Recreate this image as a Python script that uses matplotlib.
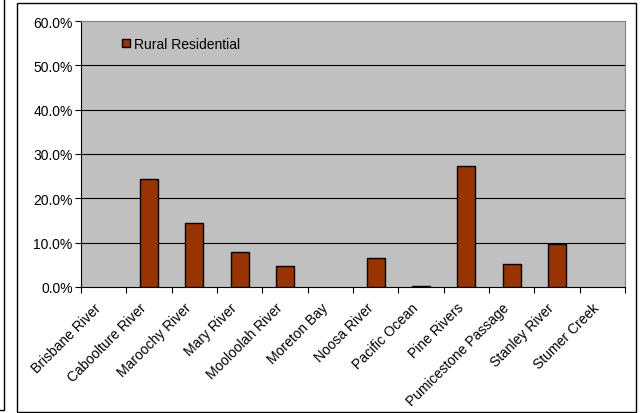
import numpy as np
import matplotlib.pyplot as plt
from matplotlib.patches import Rectangle

plt.rcParams['font.family'] = ['Liberation Sans', 'DejaVu Sans']

catchments = ['Brisbane River', 'Caboolture River', 'Maroochy River', 'Mary River',
              'Mooloolah River', 'Moreton Bay', 'Noosa River', 'Pacific Ocean',
              'Pine Rivers', 'Pumicestone Passage', 'Stanley River', 'Stumer Creek']
rural_res = [0.0, 24.4, 14.4, 8.0, 4.7, 0.0, 6.5, 0.2, 27.4, 5.1, 9.6, 0.0]

fig = plt.figure(figsize=(6.41, 4.14), dpi=100)
# outer chart border and the edge of a neighbouring chart
fig.patches.append(Rectangle((17/641, 1 - 413/414), 619/641, 409/414, transform=fig.transFigure,
                             fill=False, edgecolor='black', linewidth=1.0))
fig.patches.append(Rectangle((-10/641, 1 - 411/414), 14/641, 420/414, transform=fig.transFigure,
                             fill=False, edgecolor='black', linewidth=1.0))

ax = fig.add_axes([81/641, 1 - 288/414, 544/641, 266/414])
ax.set_facecolor('#C0C0C0')
x = np.arange(len(catchments))
edges = ['black' if v > 0 else 'none' for v in rural_res]
ax.bar(x, rural_res, width=0.4, color='#993300', edgecolor=edges, linewidth=1.0,
       label='Rural Residential', zorder=3)

ax.set_xlim(-0.5, len(catchments) - 0.5)
ax.set_ylim(0, 60)
ax.set_yticks(np.arange(0, 61, 10))
ax.set_yticklabels(['%.1f%%' % v for v in np.arange(0, 61, 10)], fontsize=10)
for v in range(10, 60, 10):
    ax.axhline(v, color='black', linewidth=0.8, zorder=1)

ax.set_xticks(np.arange(-0.5, len(catchments), 1.0))
ax.set_xticklabels([])
ax.tick_params(axis='x', direction='out', length=4, width=0.8)
ax.tick_params(axis='y', direction='out', length=4, width=0.8, pad=2)
for i, name in enumerate(catchments):
    ax.annotate(name, xy=(i, 0), xycoords=('data', 'axes fraction'),
                xytext=(-7, -9.5), textcoords='offset points',
                rotation=45, rotation_mode='anchor', ha='right', va='top', fontsize=10)

for side in ['top', 'right']:
    ax.spines[side].set_color('#808080')
for side in ['left', 'bottom']:
    ax.spines[side].set_color('black')

leg = ax.legend(loc='upper left', bbox_to_anchor=(0.075, 0.94), frameon=False, fontsize=10,
                borderaxespad=0, borderpad=0,
                handlelength=0.6, handleheight=0.6, handletextpad=0.3)
for h in leg.legend_handles:
    h.set_edgecolor('black')
    h.set_linewidth(1.0)

fig.savefig('out.png', dpi=100)
